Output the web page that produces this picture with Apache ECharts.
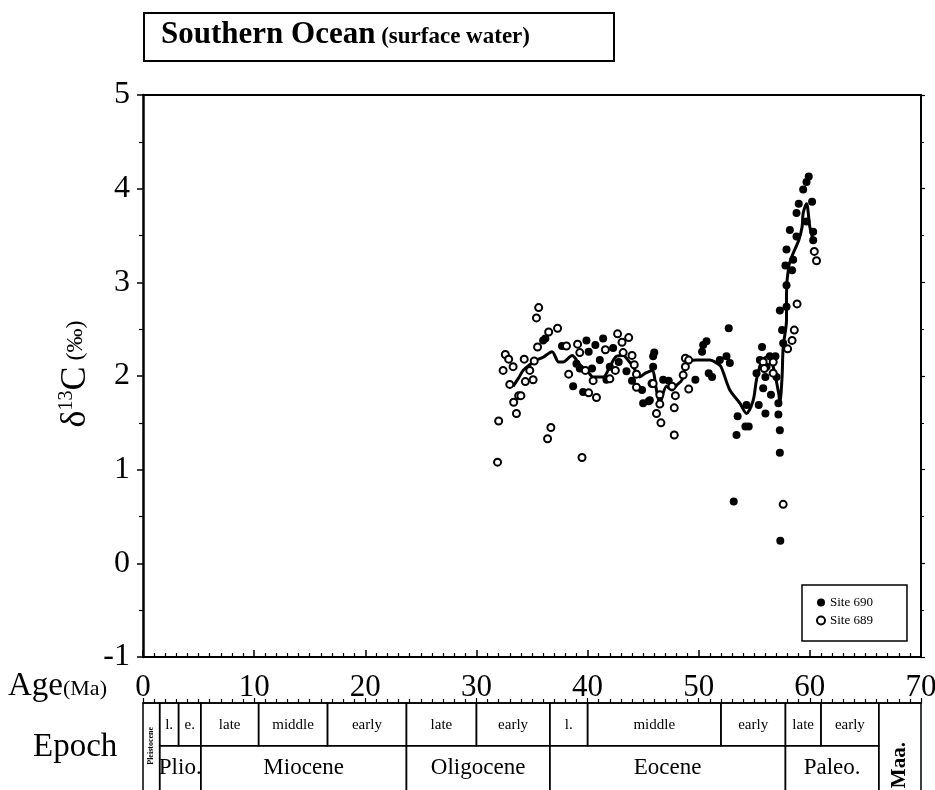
<!DOCTYPE html>
<html>
<head>
<meta charset="utf-8">
<script src="https://cdn.jsdelivr.net/npm/echarts@6/dist/echarts.min.js"></script>
<style>
  html, body { margin: 0; padding: 0; background: #fff; }
  #chart { width: 935px; height: 790px; }
</style>
</head>
<body>
<div id="chart"></div>
<script>
// δ13C of surface-water planktonic foraminifera, Southern Ocean (ODP Sites 689 and 690)
// [age in Ma, δ13C in ‰]
const site690 = [
  [36.0,2.38],[36.2,2.40],[37.7,2.32],[38.7,1.89],[39.0,2.13],[39.3,2.08],[39.6,1.83],
  [39.9,2.38],[40.1,2.26],[40.4,2.08],[40.7,2.33],[41.1,2.17],[41.4,2.40],[41.7,1.96],
  [42.0,2.10],[42.3,2.30],[42.8,2.15],[43.5,2.05],[44.0,1.95],[44.9,1.85],[45.0,1.71],
  [45.5,1.73],[45.6,1.74],[45.9,2.21],[45.9,2.10],[46.0,2.25],[46.8,1.96],[47.3,1.95],
  [49.7,1.96],[50.3,2.26],[50.4,2.33],[50.7,2.37],[50.9,2.03],[51.2,1.99],[51.9,2.17],
  [52.5,2.21],[52.7,2.51],[52.8,2.14],[53.15,0.66],[53.4,1.37],[53.5,1.57],[54.2,1.46],
  [54.3,1.69],[54.5,1.46],[55.2,2.03],[55.4,1.69],[55.5,2.17],[55.7,2.31],[55.8,1.87],
  [56.0,1.99],[56.0,1.60],[56.1,2.10],[56.4,2.21],[56.5,1.80],[56.9,2.21],[57.0,1.99],
  [57.17,1.71],[57.17,1.59],[57.3,1.42],[57.3,1.18],[57.34,0.24],[57.3,2.70],[57.5,2.49],
  [57.6,2.35],[57.8,3.18],[57.9,2.74],[57.9,2.97],[57.9,3.35],[58.2,3.56],[58.4,3.13],
  [58.5,3.24],[58.8,3.49],[58.8,3.74],[59.0,3.84],[59.4,3.99],[59.7,4.07],[59.9,4.13],
  [59.7,3.65],[60.2,3.86],[60.3,3.54],[60.3,3.45]
];
const site689 = [
  [31.9,1.08],[32.0,1.52],[32.4,2.06],[32.6,2.23],[32.9,2.18],[33.0,1.91],[33.3,2.10],
  [33.35,1.72],[33.6,1.60],[33.8,1.79],[34.0,1.79],[34.3,2.18],[34.4,1.94],[34.8,2.06],
  [35.1,1.96],[35.2,2.16],[35.4,2.62],[35.5,2.31],[35.6,2.73],[36.4,1.33],[36.5,2.47],
  [36.7,1.45],[37.3,2.51],[38.1,2.32],[38.3,2.02],[39.1,2.34],[39.3,2.25],[39.5,1.13],
  [39.8,2.06],[40.1,1.82],[40.5,1.95],[40.8,1.77],[41.6,2.28],[42.0,1.97],[42.5,2.06],
  [42.7,2.45],[43.1,2.36],[43.2,2.25],[43.7,2.41],[44.0,2.22],[44.2,2.12],[44.4,2.02],
  [44.4,1.88],[45.8,1.92],[45.9,1.92],[46.2,1.60],[46.5,1.80],[46.5,1.70],[46.6,1.50],
  [47.6,1.89],[47.8,1.66],[47.8,1.37],[47.9,1.79],[48.6,2.01],[48.8,2.19],[48.8,2.10],
  [49.1,2.17],[49.1,1.86],[55.8,2.15],[55.9,2.08],[56.7,2.15],[56.7,2.03],[57.6,0.63],
  [58.0,2.29],[58.4,2.38],[58.6,2.49],[58.85,2.77],[60.4,3.33],[60.6,3.23]
];
// smoothed record through both sites
const smoothed = [
  [33.3,1.89],[33.8,1.98],[34.2,2.06],[34.8,2.12],[35.4,2.17],[36.0,2.20],[36.8,2.26],
  [37.4,2.15],[37.8,2.15],[38.6,2.22],[39.3,2.12],[40.0,2.05],[40.5,1.99],[41.4,1.99],
  [42.0,2.10],[42.6,2.21],[43.2,2.22],[43.7,2.16],[44.1,2.10],[44.7,1.99],[45.2,2.03],
  [45.8,2.06],[46.2,1.85],[46.5,1.71],[47.1,1.89],[47.6,1.85],[48.0,1.90],[48.5,1.96],
  [48.9,2.14],[49.8,2.17],[51.0,2.17],[51.6,2.14],[52.0,2.10],[52.8,1.85],[53.7,1.71],
  [54.3,1.60],[54.9,1.74],[55.2,1.96],[55.7,2.17],[56.3,2.21],[56.7,2.10],[57.2,1.81],
  [57.3,1.71],[57.5,1.99],[57.6,2.31],[57.9,2.60],[57.9,2.88],[58.1,3.17],[58.5,3.31],
  [59.0,3.45],[59.3,3.59],[59.4,3.74],[59.7,3.84],[60.0,3.59],[60.3,3.45]
];

// Geologic time scale: [start Ma, end Ma, name]
const subEpochs = [
  [1.5,3.2,'l.'],[3.2,5.2,'e.'],[5.2,10.4,'late'],[10.4,16.6,'middle'],[16.6,23.7,'early'],
  [23.7,30.0,'late'],[30.0,36.6,'early'],[36.6,40.0,'l.'],[40.0,52.0,'middle'],
  [52.0,57.8,'early'],[57.8,61.0,'late'],[61.0,66.2,'early']
];
const epochs = [
  [1.5,5.2,'Plio.'],[5.2,23.7,'Miocene'],[23.7,36.6,'Oligocene'],[36.6,57.8,'Eocene'],
  [57.8,66.2,'Paleo.']
];
const fullHeight = [[0,1.5,'Pleistocene'],[66.2,70,'Maa.']];

const xTicks = [0,10,20,30,40,50,60,70];
const yTicks = [-1,0,1,2,3,4,5];

const FONT = 'Liberation Serif';

// time-scale cells: [start, end, rowTop, rowBottom], with label and kind
const cells = [];
subEpochs.forEach(d => cells.push({ value: [d[0], d[1], 0, 1], name: d[2], kind: 'sub' }));
epochs.forEach(d => cells.push({ value: [d[0], d[1], 1, 2.2], name: d[2], kind: 'epoch' }));
fullHeight.forEach((d, i) => cells.push({ value: [d[0], d[1], 0, 2.2], name: d[2], kind: i === 0 ? 'pleist' : 'maa' }));

function renderCell(params, api) {
  const p1 = api.coord([api.value(0), api.value(2)]);
  const p2 = api.coord([api.value(1), api.value(3)]);
  const item = cells[params.dataIndex];
  const cx = (p1[0] + p2[0]) / 2;
  const rowH = api.size([0, 1])[1];
  const children = [{
    type: 'rect',
    shape: { x: p1[0], y: p1[1], width: p2[0] - p1[0], height: p2[1] - p1[1] },
    style: { fill: 'none', stroke: '#000', lineWidth: 1.5 }
  }];
  let text;
  if (item.kind === 'sub') {
    text = { type: 'text', x: cx, y: p1[1] + rowH / 2 + 1, style: { text: item.name, font: '15px "' + FONT + '"', align: 'center', verticalAlign: 'middle', fill: '#000' } };
  } else if (item.kind === 'epoch') {
    text = { type: 'text', x: cx, y: p1[1] + rowH / 2 + 1, style: { text: item.name, font: '23px "' + FONT + '"', align: 'center', verticalAlign: 'middle', fill: '#000' } };
  } else if (item.kind === 'pleist') {
    text = { type: 'text', x: cx, y: p1[1] + rowH, rotation: Math.PI / 2, style: { text: item.name, font: 'bold 8px "' + FONT + '"', align: 'center', verticalAlign: 'middle', fill: '#000' } };
  } else {
    text = { type: 'text', x: cx, y: p1[1] + rowH * 1.45, rotation: Math.PI / 2, style: { text: item.name, font: 'bold 21px "' + FONT + '"', align: 'center', verticalAlign: 'middle', fill: '#000' } };
  }
  children.push(text);
  return { type: 'group', children: children };
}

const chart = echarts.init(document.getElementById('chart'), null, { renderer: 'canvas' });

const option = {
  backgroundColor: '#fff',
  animation: false,
  textStyle: { fontFamily: FONT, color: '#000' },
  grid: [
    { left: 143, right: 14, top: 95, bottom: 133, outerBoundsMode: 'none', containLabel: false },
    { left: 143, right: 14, top: 703, bottom: -3, outerBoundsMode: 'none', containLabel: false }
  ],
  xAxis: [
    {
      type: 'value', gridIndex: 0, min: xTicks[0], max: xTicks[xTicks.length - 1], interval: 10,
      position: 'bottom',
      axisLine: { show: true, onZero: false, lineStyle: { color: '#000', width: 2 } },
      axisTick: { show: true, inside: true, length: 7, lineStyle: { color: '#000', width: 1.5 } },
      minorTick: { show: true, splitNumber: 10, length: 4, lineStyle: { color: '#000', width: 1.2 } },
      axisLabel: { color: '#000', fontFamily: FONT, fontSize: 31, margin: 15 },
      splitLine: { show: false }
    },
    {
      type: 'value', gridIndex: 0, min: 0, max: 70, interval: 10, position: 'top',
      axisLine: { show: true, onZero: false, lineStyle: { color: '#000', width: 2 } },
      axisTick: { show: false }, axisLabel: { show: false }, splitLine: { show: false }
    },
    {
      type: 'value', gridIndex: 1, min: 0, max: 70, interval: 10, position: 'top',
      axisLine: { show: true, onZero: false, lineStyle: { color: '#000', width: 1.5 } },
      axisTick: { show: true, length: 5, lineStyle: { color: '#000', width: 1.2 } },
      minorTick: { show: true, splitNumber: 10, length: 4, lineStyle: { color: '#000', width: 1.2 } },
      axisLabel: { show: false }, splitLine: { show: false }
    }
  ],
  yAxis: [
    {
      type: 'value', gridIndex: 0, min: yTicks[0], max: yTicks[yTicks.length - 1], interval: 1,
      position: 'left',
      axisLine: { show: true, onZero: false, lineStyle: { color: '#000', width: 2.5 } },
      axisTick: { show: true, length: 6, lineStyle: { color: '#000', width: 1.5 } },
      minorTick: { show: true, splitNumber: 2, length: 4, lineStyle: { color: '#000', width: 1.2 } },
      axisLabel: { color: '#000', fontFamily: FONT, fontSize: 32, margin: 13 },
      splitLine: { show: false }
    },
    {
      type: 'value', gridIndex: 0, min: -1, max: 5, interval: 1, position: 'right',
      axisLine: { show: true, onZero: false, lineStyle: { color: '#000', width: 2 } },
      axisTick: { show: true, length: 4, lineStyle: { color: '#000', width: 1.2 } },
      minorTick: { show: true, splitNumber: 2, length: 3, lineStyle: { color: '#000', width: 1 } },
      axisLabel: { show: false }, splitLine: { show: false }
    },
    {
      type: 'value', gridIndex: 1, min: 0, max: 2.1, inverse: true, show: false
    }
  ],
  legend: {
    orient: 'vertical', left: 802, top: 585,
    padding: [11, 34, 14, 14], itemGap: 5,
    itemWidth: 8, itemHeight: 8,
    borderColor: '#000', borderWidth: 1.5, backgroundColor: '#fff',
    textStyle: { fontFamily: FONT, fontSize: 13, color: '#000' },
    data: ['Site 690', 'Site 689']
  },
  graphic: [
    {
      type: 'rect', left: 143, top: 12, z: 10,
      shape: { width: 470, height: 48 },
      style: { fill: '#fff', stroke: '#000', lineWidth: 2 }
    },
    {
      type: 'text', left: 161, top: 19, z: 11,
      style: {
        text: '{a|Southern Ocean}{b|\u00a0(surface water)}',
        rich: {
          a: { fontFamily: FONT, fontWeight: 'bold', fontSize: 31, fill: '#000' },
          b: { fontFamily: FONT, fontWeight: 'bold', fontSize: 23, fill: '#000', padding: [5, 0, 0, 0] }
        }
      }
    },
    {
      type: 'text', x: 76, y: 374, rotation: Math.PI / 2, z: 11,
      style: {
        text: '{a|δ}{s|13}{a|C}{p| (‰)}',
        align: 'center', verticalAlign: 'middle',
        rich: {
          a: { fontFamily: FONT, fontSize: 36, fill: '#000', lineHeight: 38 },
          s: { fontFamily: FONT, fontSize: 20, fill: '#000', verticalAlign: 'top', lineHeight: 38 },
          p: { fontFamily: FONT, fontSize: 24, fill: '#000', lineHeight: 38 }
        }
      }
    },
    {
      type: 'text', left: 8, top: 670, z: 11,
      style: {
        text: '{a|Age}{b|(Ma)}',
        rich: {
          a: { fontFamily: FONT, fontSize: 33, fill: '#000' },
          b: { fontFamily: FONT, fontSize: 22, fill: '#000', padding: [6, 0, 0, 0] }
        }
      }
    },
    {
      type: 'text', left: 33, top: 731, z: 11,
      style: { text: 'Epoch', fontFamily: FONT, fontSize: 33, fill: '#000' }
    }
  ],
  series: [
    {
      name: 'smoothed', type: 'line', xAxisIndex: 0, yAxisIndex: 0,
      data: smoothed, showSymbol: false, smooth: 0.3,
      lineStyle: { color: '#000', width: 3 }, z: 3, silent: true
    },
    {
      name: 'Site 690', type: 'scatter', xAxisIndex: 0, yAxisIndex: 0,
      data: site690, symbol: 'circle', symbolSize: 8,
      itemStyle: { color: '#000', opacity: 1 }, z: 4
    },
    {
      name: 'Site 689', type: 'scatter', xAxisIndex: 0, yAxisIndex: 0,
      data: site689, symbol: 'circle', symbolSize: 7,
      itemStyle: { color: '#fff', borderColor: '#000', borderWidth: 2, opacity: 1 }, z: 5
    },
    {
      name: 'timescale', type: 'custom', xAxisIndex: 2, yAxisIndex: 2,
      data: cells, renderItem: renderCell, encode: { x: [0, 1], y: [2, 3] },
      silent: true, clip: false
    }
  ]
};

chart.setOption(option);
</script>
</body>
</html>
